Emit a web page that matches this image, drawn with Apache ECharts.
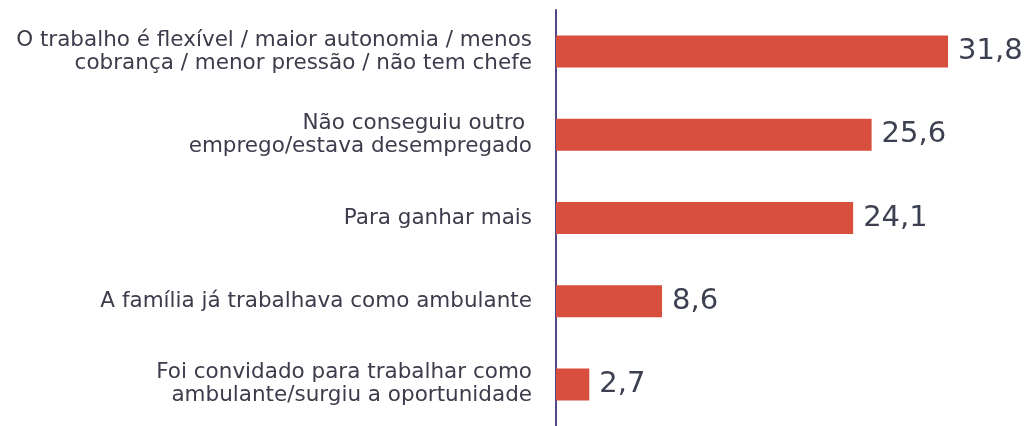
<!DOCTYPE html>
<html lang="pt">
<head>
    <meta charset="UTF-8">
    <title>Motivos</title>
    <script src="https://cdn.jsdelivr.net/npm/echarts@6/dist/echarts.min.js"></script>
    <style>
        html, body { margin: 0; padding: 0; background: #fff; }
        #chart { width: 1031px; height: 426px; }
    </style>
</head>
<body>
<div id="chart"></div>
<script>
    // categorias de cima para baixo
    var categorias = [
        'O trabalho é flexível / maior autonomia / menos\ncobrança / menor pressão / não tem chefe',
        'Não conseguiu outro \nemprego/estava desempregado',
        'Para ganhar mais',
        'A família já trabalhava como ambulante',
        'Foi convidado para trabalhar como\nambulante/surgiu a oportunidade'
    ];
    var valores = [31.8, 25.6, 24.1, 8.6, 2.7];

    var chart = echarts.init(document.getElementById('chart'));
    var option = {
        backgroundColor: '#ffffff',
        animation: false,
        grid: { left: 556, right: 6.5, top: 10, bottom: -4, containLabel: false },
        xAxis: {
            type: 'value',
            min: 0,
            max: 38,
            show: false
        },
        yAxis: {
            type: 'category',
            inverse: true,
            data: categorias,
            axisLine: { show: true, lineStyle: { color: '#4f4a86', width: 2 } },
            axisTick: { show: false },
            axisLabel: {
                margin: 24,
                fontFamily: 'DejaVu Sans',
                fontSize: 21.5,
                lineHeight: 23,
                color: '#3c3c4c',
                align: 'right'
            }
        },
        series: [{
            type: 'bar',
            data: valores,
            barWidth: 32,
            itemStyle: { color: '#d94f3d' },
            label: {
                show: true,
                position: 'right',
                distance: 10,
                fontFamily: 'DejaVu Sans',
                fontSize: 29,
                color: '#3d4050',
                formatter: function (p) { return String(p.value).replace('.', ','); }
            }
        }]
    };
    chart.setOption(option);
</script>
</body>
</html>
